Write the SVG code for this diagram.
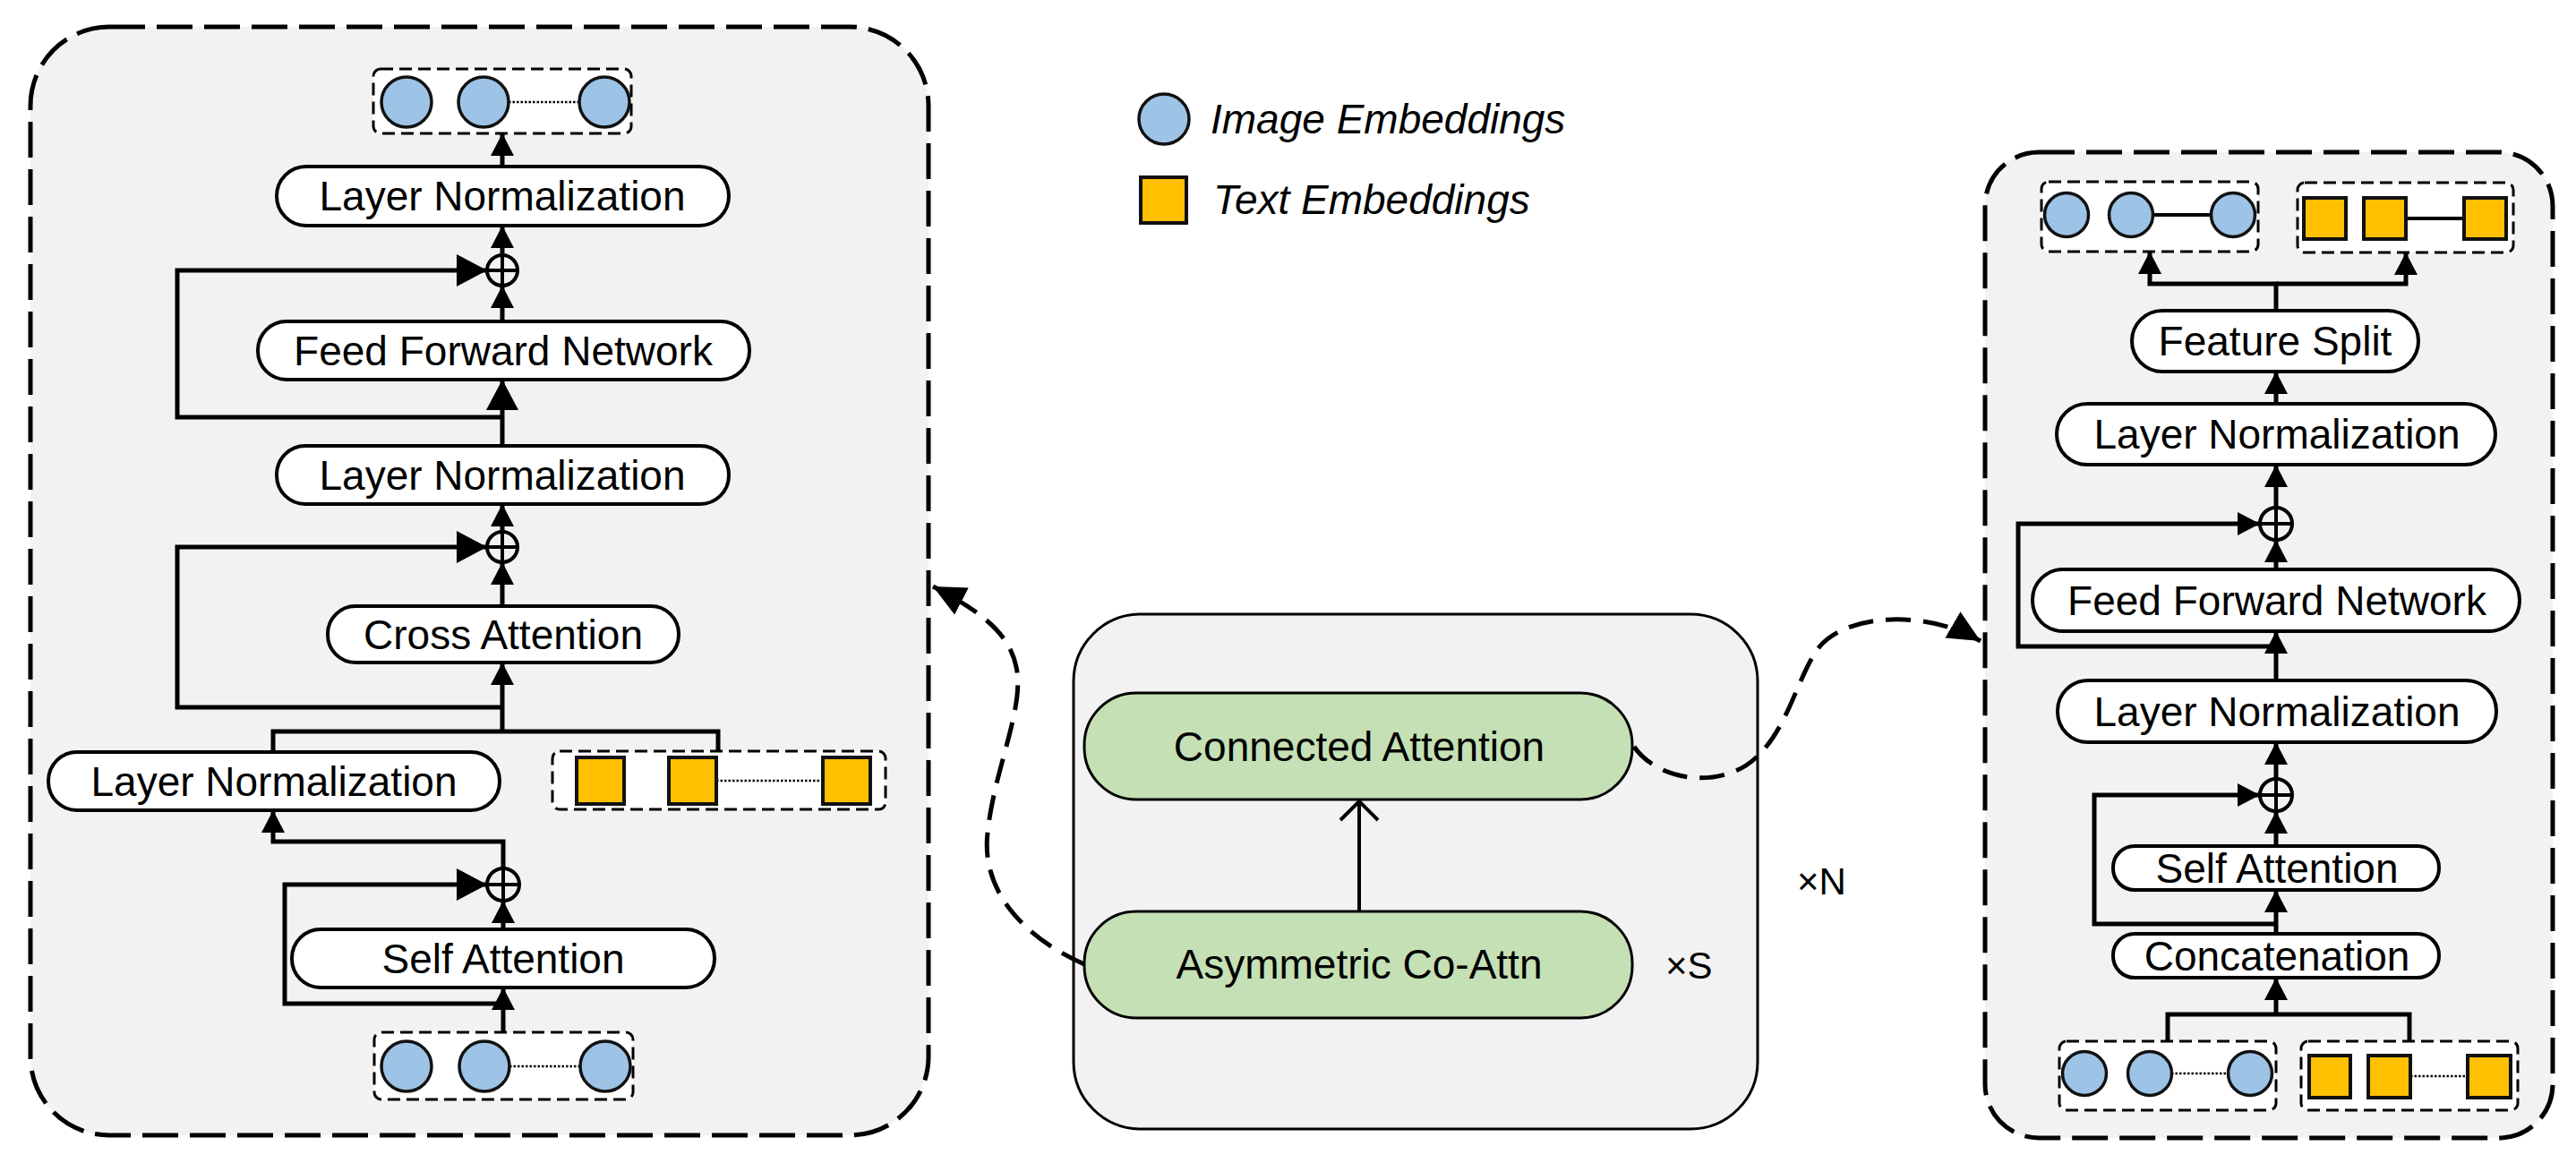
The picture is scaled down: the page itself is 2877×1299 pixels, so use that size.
<svg xmlns="http://www.w3.org/2000/svg" width="2877" height="1299" viewBox="0 0 2877 1299">
<style>
.outer{fill:#f2f2f2;stroke:#000;stroke-width:5;stroke-dasharray:40 13}
.mid{fill:#f2f2f2;stroke:#000;stroke-width:3}
.node{fill:#fff;stroke:#000;stroke-width:4}
.green{fill:#c5e0b4;stroke:#000;stroke-width:3}
.emb{fill:#fff;stroke:#000;stroke-width:3;stroke-dasharray:14 7}
.img{fill:#9dc3e6;stroke:#111;stroke-width:3.5}
.txt{fill:#ffc000;stroke:#111;stroke-width:4}
.dot{stroke:#000;stroke-width:2.5;stroke-dasharray:2.5 2}
.solid{stroke:#000;stroke-width:4}
.lbl{font-family:'Liberation Sans',Arial,sans-serif;font-size:46px;fill:#000;text-anchor:middle}
.leg{font-family:'Liberation Sans',Arial,sans-serif;font-size:46px;font-style:italic;fill:#000}
.mul{font-family:'Liberation Sans',Arial,sans-serif;font-size:42px;fill:#000}
.c{fill:none;stroke:#000;stroke-width:5}
.cm{fill:none;stroke:#000;stroke-width:4}
.cd{fill:none;stroke:#000;stroke-width:5;stroke-dasharray:28 14}
.plus{fill:none;stroke:#000;stroke-width:4}
</style>
<defs>
<marker id="ah" markerUnits="userSpaceOnUse" markerWidth="26" markerHeight="26" refX="25" refY="13" orient="auto">
<path d="M0,0 L25,13 L0,26 Z" fill="#000"/>
</marker>
<marker id="ahb" markerUnits="userSpaceOnUse" markerWidth="36" markerHeight="36" refX="34" refY="18" orient="auto">
<path d="M0,0 L34,18 L0,36 Z" fill="#000"/>
</marker>
<marker id="open" markerUnits="userSpaceOnUse" markerWidth="26" markerHeight="48" refX="23" refY="24" orient="auto">
<path d="M2,3 L23,24 L2,45" fill="none" stroke="#000" stroke-width="4"/>
</marker>
<marker id="big" markerUnits="userSpaceOnUse" markerWidth="36" markerHeight="34" refX="36" refY="17" orient="auto">
<path d="M0,0 L36,17 L0,34 Z" fill="#000"/>
</marker>
</defs>

<!-- containers -->
<g id="left-panel"><rect class="outer" x="34" y="30" width="1003" height="1238" rx="88" ry="88"/></g>
<g id="middle-panel"><rect class="mid" x="1199" y="686" width="764" height="575" rx="75" ry="75"/></g>
<g id="right-panel"><rect class="outer" x="2217" y="170" width="634" height="1101" rx="60" ry="60"/></g>

<!-- legend -->
<g id="legend">
<circle class="img" cx="1300" cy="133" r="28"/>
<text class="leg" x="1352" y="149">Image Embeddings</text>
<rect class="txt" x="1274" y="198" width="51" height="51"/>
<text class="leg" x="1355" y="239">Text Embeddings</text>
</g>

<!-- left panel nodes -->
<g id="L-emb-out">
<rect class="emb" x="417" y="77" width="288" height="72" rx="8"/>
<line class="dot" x1="568" y1="114" x2="647" y2="114"/>
<circle class="img" cx="454" cy="114" r="28"/>
<circle class="img" cx="540" cy="114" r="28"/>
<circle class="img" cx="675" cy="114" r="28"/>
</g>
<g id="L-ln1"><rect class="node" x="309" y="186" width="505" height="66" rx="33"/><text class="lbl" x="561" y="235">Layer Normalization</text></g>
<g id="L-add1"><circle class="plus" cx="561" cy="302" r="17"/><line class="plus" x1="544" y1="302" x2="578" y2="302"/><line class="plus" x1="561" y1="285" x2="561" y2="319"/></g>
<g id="L-ffn"><rect class="node" x="288" y="359" width="549" height="65" rx="32"/><text class="lbl" x="562" y="408">Feed Forward Network</text></g>
<g id="L-ln2"><rect class="node" x="309" y="498" width="505" height="65" rx="32"/><text class="lbl" x="561" y="547">Layer Normalization</text></g>
<g id="L-add2"><circle class="plus" cx="561" cy="611" r="17"/><line class="plus" x1="544" y1="611" x2="578" y2="611"/><line class="plus" x1="561" y1="594" x2="561" y2="628"/></g>
<g id="L-ca"><rect class="node" x="366" y="677" width="392" height="63" rx="31"/><text class="lbl" x="562" y="725">Cross Attention</text></g>
<g id="L-ln3"><rect class="node" x="54" y="840" width="504" height="65" rx="32"/><text class="lbl" x="306" y="889">Layer Normalization</text></g>
<g id="L-emb-text">
<rect class="emb" x="617" y="839" width="372" height="65" rx="8"/>
<line class="dot" x1="800" y1="872" x2="919" y2="872"/>
<rect class="txt" x="644" y="846" width="53" height="52"/>
<rect class="txt" x="747" y="846" width="53" height="52"/>
<rect class="txt" x="919" y="846" width="53" height="52"/>
</g>
<g id="L-add3"><circle class="plus" cx="562" cy="988" r="18"/><line class="plus" x1="544" y1="988" x2="580" y2="988"/><line class="plus" x1="562" y1="970" x2="562" y2="1006"/></g>
<g id="L-sa"><rect class="node" x="326" y="1038" width="472" height="65" rx="32"/><text class="lbl" x="562" y="1087">Self Attention</text></g>
<g id="L-emb-in">
<rect class="emb" x="418" y="1153" width="289" height="75" rx="8"/>
<line class="dot" x1="569" y1="1191" x2="648" y2="1191"/>
<circle class="img" cx="454" cy="1191" r="28"/>
<circle class="img" cx="541" cy="1191" r="28"/>
<circle class="img" cx="676" cy="1191" r="28"/>
</g>

<!-- middle nodes -->
<g id="M-conn"><rect class="green" x="1211" y="774" width="612" height="119" rx="58"/><text class="lbl" x="1518" y="850">Connected Attention</text></g>
<g id="M-asym"><rect class="green" x="1211" y="1018" width="612" height="119" rx="58"/><text class="lbl" x="1518" y="1093">Asymmetric Co-Attn</text></g>
<text class="mul" x="1860" y="1093">×S</text>
<text class="mul" x="2007" y="999">×N</text>

<!-- right panel nodes -->
<g id="R-emb-img-out">
<rect class="emb" x="2280" y="203" width="242" height="78" rx="8"/>
<line class="solid" x1="2404" y1="240" x2="2470" y2="240"/>
<circle class="img" cx="2308" cy="240" r="24.5"/>
<circle class="img" cx="2380" cy="240" r="24.5"/>
<circle class="img" cx="2494" cy="240" r="24.5"/>
</g>
<g id="R-emb-txt-out">
<rect class="emb" x="2566" y="204" width="241" height="78" rx="8"/>
<line class="solid" x1="2687" y1="244" x2="2752" y2="244"/>
<rect class="txt" x="2573" y="221" width="47" height="46"/>
<rect class="txt" x="2640" y="221" width="47" height="46"/>
<rect class="txt" x="2752" y="221" width="47" height="46"/>
</g>
<g id="R-split"><rect class="node" x="2381" y="347" width="320" height="68" rx="34"/><text class="lbl" x="2541" y="397">Feature Split</text></g>
<g id="R-ln1"><rect class="node" x="2297" y="451" width="490" height="68" rx="34"/><text class="lbl" x="2543" y="501">Layer Normalization</text></g>
<g id="R-add1"><circle class="plus" cx="2542" cy="585" r="18"/><line class="plus" x1="2524" y1="585" x2="2560" y2="585"/><line class="plus" x1="2542" y1="567" x2="2542" y2="603"/></g>
<g id="R-ffn"><rect class="node" x="2270" y="636" width="544" height="69" rx="34"/><text class="lbl" x="2543" y="687">Feed Forward Network</text></g>
<g id="R-ln2"><rect class="node" x="2298" y="760" width="490" height="69" rx="34"/><text class="lbl" x="2543" y="811">Layer Normalization</text></g>
<g id="R-add2"><circle class="plus" cx="2542" cy="888" r="18"/><line class="plus" x1="2524" y1="888" x2="2560" y2="888"/><line class="plus" x1="2542" y1="870" x2="2542" y2="906"/></g>
<g id="R-sa"><rect class="node" x="2360" y="945" width="364" height="49" rx="24"/><text class="lbl" x="2543" y="986">Self Attention</text></g>
<g id="R-concat"><rect class="node" x="2360" y="1043" width="364" height="49" rx="24"/><text class="lbl" x="2543" y="1084">Concatenation</text></g>
<g id="R-emb-img-in">
<rect class="emb" x="2300" y="1163" width="242" height="77" rx="8"/>
<line class="dot" x1="2425" y1="1199" x2="2489" y2="1199"/>
<circle class="img" cx="2328" cy="1199" r="24.5"/>
<circle class="img" cx="2401" cy="1199" r="24.5"/>
<circle class="img" cx="2513" cy="1199" r="24.5"/>
</g>
<g id="R-emb-txt-in">
<rect class="emb" x="2570" y="1163" width="242" height="77" rx="8"/>
<line class="dot" x1="2692" y1="1202" x2="2756" y2="1202"/>
<rect class="txt" x="2579" y="1179" width="46" height="47"/>
<rect class="txt" x="2645" y="1179" width="47" height="47"/>
<rect class="txt" x="2756" y="1179" width="48" height="47"/>
</g>

<!-- connectors -->
<g id="connectors">
<!-- left -->
<path class="c" d="M561,186 L561,149" marker-end="url(#ah)"/>
<path class="c" d="M561,285 L561,252" marker-end="url(#ah)"/>
<path class="c" d="M561,359 L561,319" marker-end="url(#ah)"/>
<path class="c" d="M561,466 L198,466 L198,302 L544,302" marker-end="url(#ahb)"/>
<path class="c" d="M561,498 L561,424" marker-end="url(#ahb)"/>
<path class="c" d="M561,594 L561,563" marker-end="url(#ah)"/>
<path class="c" d="M561,677 L561,628" marker-end="url(#ah)"/>
<path class="c" d="M561,790 L198,790 L198,611 L544,611" marker-end="url(#ahb)"/>
<path class="c" d="M561,817 L561,740" marker-end="url(#ah)"/>
<path class="c" d="M305,840 L305,817 L802,817 L802,839"/>
<path class="c" d="M562,970 L562,940 L305,940 L305,905" marker-end="url(#ah)"/>
<path class="c" d="M562,1121 L318,1121 L318,988 L544,988" marker-end="url(#ahb)"/>
<path class="c" d="M562,1038 L562,1006" marker-end="url(#ah)"/>
<path class="c" d="M562,1153 L562,1103" marker-end="url(#ah)"/>
<!-- middle -->
<path class="cm" d="M1518,1018 L1518,895" marker-end="url(#open)"/>
<path class="cd" d="M1211,1077 C1150,1050 1095,1000 1103,930 C1110,860 1145,790 1135,745 C1128,710 1100,685 1042,655" marker-end="url(#big)"/>
<path class="cd" d="M1825,834 C1850,870 1910,880 1950,855 C1995,825 2005,760 2030,725 C2060,685 2150,680 2212,716" marker-end="url(#big)"/>
<!-- right -->
<path class="c" d="M2542,347 L2542,317 L2401,317 L2401,281" marker-end="url(#ah)"/>
<path class="c" d="M2542,317 L2687,317 L2687,282" marker-end="url(#ah)"/>
<path class="c" d="M2542,451 L2542,415" marker-end="url(#ah)"/>
<path class="c" d="M2542,567 L2542,519" marker-end="url(#ah)"/>
<path class="c" d="M2542,636 L2542,603" marker-end="url(#ah)"/>
<path class="c" d="M2542,722 L2254,722 L2254,585 L2524,585" marker-end="url(#ah)"/>
<path class="c" d="M2542,760 L2542,705" marker-end="url(#ah)"/>
<path class="c" d="M2542,870 L2542,829" marker-end="url(#ah)"/>
<path class="c" d="M2542,945 L2542,906" marker-end="url(#ah)"/>
<path class="c" d="M2542,1032 L2339,1032 L2339,888 L2524,888" marker-end="url(#ah)"/>
<path class="c" d="M2542,1043 L2542,994" marker-end="url(#ah)"/>
<path class="c" d="M2421,1163 L2421,1133 L2691,1133 L2691,1163"/>
<path class="c" d="M2542,1133 L2542,1092" marker-end="url(#ah)"/>
</g>
</svg>
